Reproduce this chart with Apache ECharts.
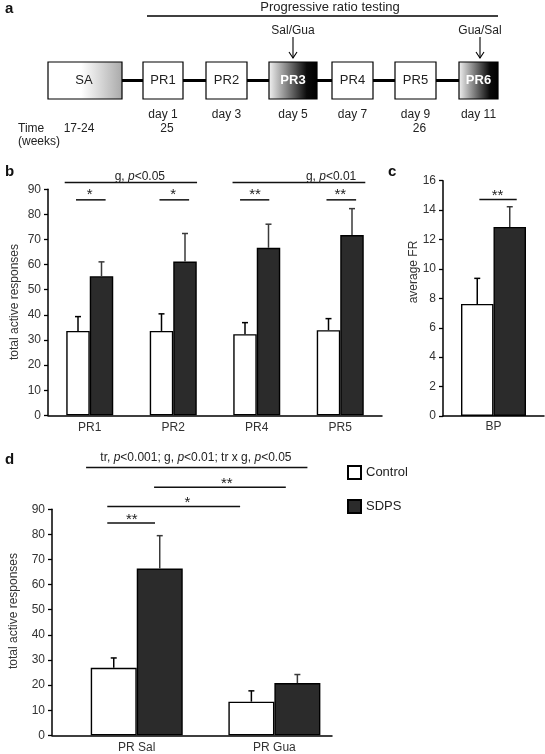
<!DOCTYPE html>
<html><head><meta charset="utf-8">
<script src="https://cdn.jsdelivr.net/npm/echarts@6/dist/echarts.min.js"></script>
<style>html,body{margin:0;padding:0;background:#fff}#c{width:545px;height:754px}</style>
</head><body><div id="c"></div>
<script>
// ---------- Panel a (schematic) labels ----------
const aBoxLabels = ['SA', 'PR1', 'PR2', 'PR3', 'PR4', 'PR5', 'PR6'];
const aDayLabels = ['', 'day 1', 'day 3', 'day 5', 'day 7', 'day 9', 'day 11'];
const aWeekLabels = ['17-24', '25', '', '', '', '26', ''];
const aInjections = ['Sal/Gua', 'Gua/Sal'];
const aTitle = 'Progressive ratio testing';

// ---------- Panel b ----------
const bCategories = ['PR1', 'PR2', 'PR4', 'PR5'];
const bControl = [33.6, 33.6, 32.3, 33.9];
const bControlErr = [39.3, 40.4, 36.9, 38.5];
const bSDPS = [55.4, 61.2, 66.7, 71.8];
const bSDPSErr = [61.1, 72.4, 76.1, 82.3];

// ---------- Panel c ----------
const cCategories = ['BP'];
const cControl = [7.62];
const cControlErr = [9.36];
const cSDPS = [12.86];
const cSDPSErr = [14.23];

// ---------- Panel d ----------
const dCategories = ['PR Sal', 'PR Gua'];
const dControl = [26.9, 13.4];
const dControlErr = [30.8, 17.7];
const dSDPS = [66.4, 20.8];
const dSDPSErr = [79.5, 24.2];

const FONT = '"Liberation Sans", Arial, sans-serif';
const TXT = '#222';

const chart = echarts.init(document.getElementById('c'), null, {renderer: 'canvas'});

function barPair(gi, ctrl, sdps, bw, xs) {
  const toData = arr => xs ? arr.map((v, i) => [i, v]) : arr;
  return [
    {type: 'bar', name: 'Control', xAxisIndex: gi, yAxisIndex: gi, data: toData(ctrl),
     barWidth: bw, barGap: '0%', z: 2,
     itemStyle: {color: '#ffffff', borderColor: '#000', borderWidth: 1.4}},
    {type: 'bar', name: 'SDPS', xAxisIndex: gi, yAxisIndex: gi, data: toData(sdps),
     barWidth: bw, barGap: '0%', z: 2,
     itemStyle: {color: '#2b2b2b', borderColor: '#000', borderWidth: 1.4}}
  ];
}

function errSeries(gi, means, errs, side, bw, color) {
  return {
    type: 'custom', xAxisIndex: gi, yAxisIndex: gi, z: 4, silent: true,
    data: means.map((m, i) => [i, m, errs[i]]),
    renderItem(params, api) {
      const i = api.value(0);
      const p0 = api.coord([i, api.value(1)]);
      const p1 = api.coord([i, api.value(2)]);
      const x = p0[0] + side * bw / 2;
      return {type: 'group', children: [
        {type: 'line', shape: {x1: x, y1: p0[1], x2: x, y2: p1[1]}, style: {stroke: color, lineWidth: 1.5}},
        {type: 'line', shape: {x1: x - 3, y1: p1[1], x2: x + 3, y2: p1[1]}, style: {stroke: color, lineWidth: 1.5}}
      ]};
    }
  };
}

function richP(txt) {
  // italicise the letter p in statistical annotations
  return txt.replace(/p</g, '{i|p}<');
}

function sigSeries(gi, items) {
  return {
    type: 'custom', xAxisIndex: gi, yAxisIndex: gi, z: 5, silent: true, clip: false,
    data: items.map(it => [0, it.y]),
    renderItem(params, api) {
      const it = items[params.dataIndex];
      const base = api.coord([0, it.y]);
      const unit = api.size([1, 0])[0];
      const X = v => base[0] + v * unit;
      const ch = [];
      if (it.x1 != null) {
        ch.push({type: 'line', shape: {x1: X(it.x1), y1: base[1], x2: X(it.x2), y2: base[1]},
                 style: {stroke: '#111', lineWidth: 1.5}});
      }
      if (it.text) {
        const tp = api.coord([0, it.ty]);
        const star = it.text[0] === '*';
        const t = star ? it.text : richP(it.text);
        ch.push({type: 'text', x: X(it.tx), y: tp[1] + (star ? 4 : 0),
          style: {text: t, align: 'center', verticalAlign: 'middle',
                  fontSize: star ? 15 : 12, fontFamily: FONT, fill: TXT,
                  rich: {i: {fontStyle: 'italic', fontSize: 12, fontFamily: FONT, fill: TXT, color: TXT}}}});
      }
      return {type: 'group', children: ch};
    }
  };
}

const bSig = [
  {x1: -0.30, x2: 1.285, y: 92.7, text: 'g, p<0.05', tx: 0.60, ty: 95.2},
  {x1: 1.71, x2: 3.30, y: 92.7, text: 'g, p<0.01', tx: 2.89, ty: 95.2},
  {x1: -0.165, x2: 0.19, y: 85.8, text: '*', tx: 0.0, ty: 89.4},
  {x1: 0.835, x2: 1.19, y: 85.8, text: '*', tx: 1.0, ty: 89.4},
  {x1: 1.80, x2: 2.15, y: 85.8, text: '**', tx: 1.98, ty: 89.4},
  {x1: 2.835, x2: 3.19, y: 85.8, text: '**', tx: 3.0, ty: 89.4}
];
const cSig = [
  {x1: -0.14, x2: 0.23, y: 14.72, text: '**', tx: 0.04, ty: 15.25}
];
const dSig = [
  {x1: -0.368, x2: 1.24, y: 106.6, text: 'tr, p<0.001; g, p<0.01; tr x g, p<0.05', tx: 0.43, ty: 110.4},
  {x1: 0.126, x2: 1.083, y: 98.8, text: '**', tx: 0.654, ty: 101.6},
  {x1: -0.214, x2: 0.751, y: 91.1, text: '*', tx: 0.368, ty: 94.0},
  {x1: -0.214, x2: 0.133, y: 84.5, text: '**', tx: -0.036, ty: 87.4}
];

const axisLine = {show: true, onZero: false, lineStyle: {color: '#000', width: 1.5}};
const yTick = {show: true, inside: false, length: 4, lineStyle: {color: '#000', width: 1.3}};
const lbl = {color: '#333', fontSize: 12, fontFamily: FONT};

// ---------- Panel a graphics ----------
const boxX = [[48, 122], [143, 183], [206, 247], [269, 317], [332, 373], [395, 436], [459, 498]];
const boxTop = 62, boxBot = 99, midY = 80.5;
const g = [];
g.push({type: 'line', shape: {x1: 122, y1: midY, x2: 459, y2: midY}, style: {stroke: '#000', lineWidth: 3}});
aBoxLabels.forEach((lab, i) => {
  const [x1, x2] = boxX[i];
  let fill = '#fff', tcol = TXT;
  if (lab === 'SA') {
    fill = {type: 'linear', x: 0, y: 0, x2: 1, y2: 0, colorStops: [
      {offset: 0, color: '#fff'}, {offset: 0.45, color: '#fff'}, {offset: 1, color: '#a9a9a9'}]};
  } else if (lab === 'PR3' || lab === 'PR6') {
    fill = {type: 'linear', x: 0, y: 0, x2: 1, y2: 0, colorStops: [
      {offset: 0, color: '#f4f4f4'}, {offset: 0.78, color: '#0a0a0a'}, {offset: 1, color: '#000'}]};
    tcol = '#fff';
  }
  g.push({type: 'rect', shape: {x: x1, y: boxTop, width: x2 - x1, height: boxBot - boxTop},
          style: {fill: fill, stroke: '#000', lineWidth: 1.2}});
  g.push({type: 'text', x: (x1 + x2) / 2 + (lab === 'SA' ? -1 : 0), y: midY,
          style: {text: lab, align: 'center', verticalAlign: 'middle', fontSize: 13,
                  fontFamily: FONT, fill: tcol, fontWeight: (tcol === '#fff') ? 'bold' : 'normal'}});
  if (aDayLabels[i]) {
    g.push({type: 'text', x: (x1 + x2) / 2, y: 115,
            style: {text: aDayLabels[i], align: 'center', verticalAlign: 'middle', fontSize: 12, fontFamily: FONT, fill: TXT}});
  }
  if (aWeekLabels[i]) {
    const wx = i === 0 ? 79 : (x1 + x2) / 2 + 4;
    g.push({type: 'text', x: wx, y: 128.5,
            style: {text: aWeekLabels[i], align: 'center', verticalAlign: 'middle', fontSize: 12, fontFamily: FONT, fill: TXT}});
  }
});
g.push({type: 'text', x: 18, y: 128.5, style: {text: 'Time', align: 'left', verticalAlign: 'middle', fontSize: 12, fontFamily: FONT, fill: TXT}});
g.push({type: 'text', x: 18, y: 142, style: {text: '(weeks)', align: 'left', verticalAlign: 'middle', fontSize: 12, fontFamily: FONT, fill: TXT}});
g.push({type: 'text', x: 330, y: 7, style: {text: aTitle, align: 'center', verticalAlign: 'middle', fontSize: 13, fontFamily: FONT, fill: TXT}});
g.push({type: 'line', shape: {x1: 147, y1: 16, x2: 498, y2: 16}, style: {stroke: '#000', lineWidth: 1.3}});
[[293, aInjections[0]], [480, aInjections[1]]].forEach(([x, t]) => {
  g.push({type: 'text', x: x, y: 30.5, style: {text: t, align: 'center', verticalAlign: 'middle', fontSize: 12, fontFamily: FONT, fill: TXT}});
  g.push({type: 'line', shape: {x1: x, y1: 37, x2: x, y2: 58}, style: {stroke: '#000', lineWidth: 1.1}});
  g.push({type: 'polyline', shape: {points: [[x - 4, 52], [x, 58], [x + 4, 52]]}, style: {stroke: '#000', lineWidth: 1.1, fill: null}});
});
// panel letters
[['a', 5, 9], ['b', 5, 172], ['c', 388, 172], ['d', 5, 460]].forEach(([t, x, y]) => {
  g.push({type: 'text', x: x, y: y, style: {text: t, align: 'left', verticalAlign: 'middle', fontSize: 15, fontWeight: 'bold', fontFamily: FONT, fill: '#111'}});
});
// axis titles
[['total active responses', 15, 302], ['average FR', 414, 272], ['total active responses', 14, 611]].forEach(([t, x, y]) => {
  g.push({type: 'text', x: x, y: y, rotation: Math.PI / 2,
          style: {text: t, align: 'center', verticalAlign: 'middle', fontSize: 12, fontFamily: FONT, fill: '#333'}});
});

const option = {
  animation: false,
  backgroundColor: '#fff',
  textStyle: {fontFamily: FONT},
  grid: [
    {left: 48, top: 189.3, width: 334, height: 226},
    {left: 443, top: 180.7, width: 101, height: 235.3},
    {left: 52, top: 509.3, width: 280, height: 226}
  ],
  xAxis: [
    {type: 'category', gridIndex: 0, data: bCategories, axisLine: axisLine, axisTick: {show: false},
     axisLabel: Object.assign({margin: 6}, lbl)},
    {type: 'category', gridIndex: 1, data: cCategories, axisLine: axisLine, axisTick: {show: false},
     axisLabel: Object.assign({margin: 5}, lbl)},
    {type: 'value', gridIndex: 2, min: -0.6156, max: 1.4186, axisLine: axisLine, axisTick: {show: false},
     splitLine: {show: false},
     axisLabel: Object.assign({margin: 6, customValues: [0, 1], formatter: v => dCategories[Math.round(v)] || ''}, lbl)}
  ],
  yAxis: [
    {type: 'value', gridIndex: 0, min: 0, max: 90, interval: 10, axisLine: axisLine, axisTick: yTick,
     splitLine: {show: false}, axisLabel: Object.assign({margin: 7}, lbl)},
    {type: 'value', gridIndex: 1, min: 0, max: 16, interval: 2, axisLine: axisLine, axisTick: yTick,
     splitLine: {show: false}, axisLabel: Object.assign({margin: 7}, lbl)},
    {type: 'value', gridIndex: 2, min: 0, max: 90, interval: 10, axisLine: axisLine, axisTick: yTick,
     splitLine: {show: false}, axisLabel: Object.assign({margin: 7}, lbl)}
  ],
  legend: {
    data: ['Control', 'SDPS'], orient: 'vertical', left: 347, top: 465, padding: 0,
    itemWidth: 13, itemHeight: 13, itemGap: 19, icon: 'rect',
    textStyle: {fontSize: 13, color: '#222', fontFamily: FONT}, selectedMode: false
  },
  graphic: g,
  series: [
    ...barPair(0, bControl, bSDPS, 23.5, false),
    errSeries(0, bControl, bControlErr, -1, 23.5, '#000'),
    errSeries(0, bSDPS, bSDPSErr, 1, 23.5, '#3a3a3a'),
    sigSeries(0, bSig),
    ...barPair(1, cControl, cSDPS, 32.5, false),
    errSeries(1, cControl, cControlErr, -1, 32.5, '#000'),
    errSeries(1, cSDPS, cSDPSErr, 1, 32.5, '#3a3a3a'),
    sigSeries(1, cSig),
    ...barPair(2, dControl, dSDPS, 46, true),
    errSeries(2, dControl, dControlErr, -1, 46, '#000'),
    errSeries(2, dSDPS, dSDPSErr, 1, 46, '#3a3a3a'),
    sigSeries(2, dSig)
  ]
};
chart.setOption(option);
</script>
</body></html>
